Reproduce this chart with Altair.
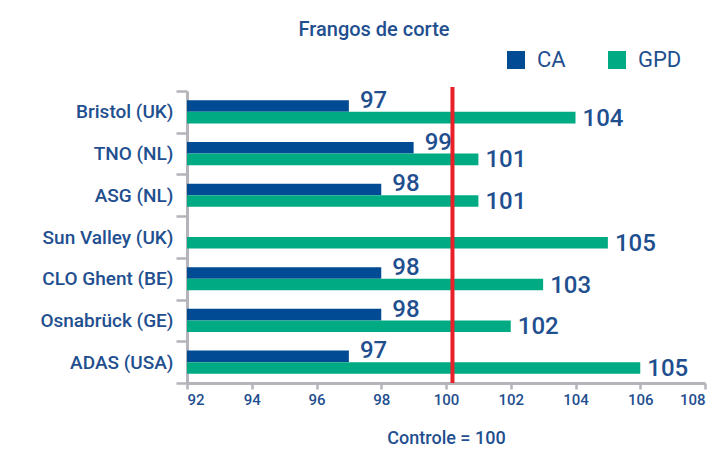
import altair as alt
import pandas as pd

sites = ["Bristol (UK)", "TNO (NL)", "ASG (NL)", "Sun Valley (UK)",
         "CLO Ghent (BE)", "Osnabrück (GE)", "ADAS (USA)"]
ca_values = [97, 99, 98, None, 98, 98, 97]
ca_labels = ["97", "99", "98", "", "98", "98", "97"]
gpd_values = [104, 101, 101, 105, 103, 102, 106]
gpd_labels = ["104", "101", "101", "105", "103", "102", "105"]
control_line = [100.2]
x_ticks = [92, 94, 96, 98, 100, 102, 104, 106, 108]
series = ["CA", "GPD"]
colors = ["#004b93", "#00ab84"]

TXT = "#1f4f8f"
GREY = "#b4b4ba"
FONT = "Roboto"

rows = []
for s, v, l in zip(sites, ca_values, ca_labels):
    if v is not None:
        rows.append({"site": s, "series": "CA", "value": v, "label": l})
for s, v, l in zip(sites, gpd_values, gpd_labels):
    rows.append({"site": s, "series": "GPD", "value": v, "label": l})
df = pd.DataFrame(rows)

xscale = alt.Scale(domain=[92, 108], zero=False, nice=False)
yenc = alt.Y("site:N", sort=sites,
             scale=alt.Scale(paddingInner=0, paddingOuter=0),
             axis=alt.Axis(title=None, tickBand="extent", tickSize=11,
                           tickWidth=2.5, tickColor=GREY, domainColor=GREY,
                           domainWidth=3, labelFont=FONT, labelFontSize=19,
                           labelFontWeight=500, labelColor=TXT, labelPadding=3))
yoff = alt.YOffset("series:N", scale=alt.Scale(domain=series, paddingOuter=0.8, paddingInner=0))

base = alt.Chart(df)

bars = base.mark_bar().encode(
    x=alt.X("value:Q", scale=xscale,
            axis=alt.Axis(values=x_ticks, title="Controle = 100", tickSize=6,
                          tickWidth=2.5, tickColor=GREY, domainColor=GREY,
                          domainWidth=3, labelFont=FONT, labelFontSize=15,
                          labelFontWeight=500, labelColor=TXT, labelPadding=3,
                          grid=False, titleFont=FONT, titleFontSize=18,
                          titleFontWeight=500, titleColor=TXT, titlePadding=22)),
    x2=alt.X2(datum=92),
    y=yenc,
    yOffset=yoff,
    color=alt.Color("series:N", scale=alt.Scale(domain=series, range=colors),
                    legend=alt.Legend(title=None, orient="none", legendX=318,
                                      legendY=-42, direction="horizontal",
                                      symbolType="square",
                                      symbolSize=324, symbolStrokeWidth=0,
                                      symbolOpacity=1, gridAlign="each",
                                      labelFont=FONT, labelFontSize=22,
                                      labelColor=TXT, labelOffset=10,
                                      columnPadding=40, padding=0)),
)

ca_text = base.transform_filter(alt.datum.series == "CA").mark_text(
    align="left", baseline="middle", dx=11, dy=-5, font=FONT, fontSize=24,
    fontWeight=500, color=TXT
).encode(x=alt.X("value:Q", scale=xscale), y=alt.Y("site:N", sort=sites),
         yOffset=yoff, text="label:N")

gpd_text = base.transform_filter(alt.datum.series == "GPD").mark_text(
    align="left", baseline="middle", dx=7, dy=1, font=FONT, fontSize=24,
    fontWeight=500, color=TXT
).encode(x=alt.X("value:Q", scale=xscale), y=alt.Y("site:N", sort=sites),
         yOffset=yoff, text="label:N")

rule = alt.Chart(pd.DataFrame({"value": control_line})).mark_rule(
    color="#e8202a", strokeWidth=4
).encode(x=alt.X("value:Q", scale=xscale), y=alt.value(-4), y2=alt.value(292))

chart = alt.layer(bars, ca_text, gpd_text, rule).properties(
    width=518, height=292,
    padding={"left": 187, "top": 91, "right": 11, "bottom": 67},
    autosize=alt.AutoSizeParams(type="none"),
    title=alt.Title("Frangos de corte", font=FONT, fontSize=20, fontWeight=500,
                    color=TXT, frame="group", anchor="middle", dx=-72, offset=9),
).configure_view(stroke=None)

chart.save("out.html", embed_options={"renderer": "svg", "actions": False})
